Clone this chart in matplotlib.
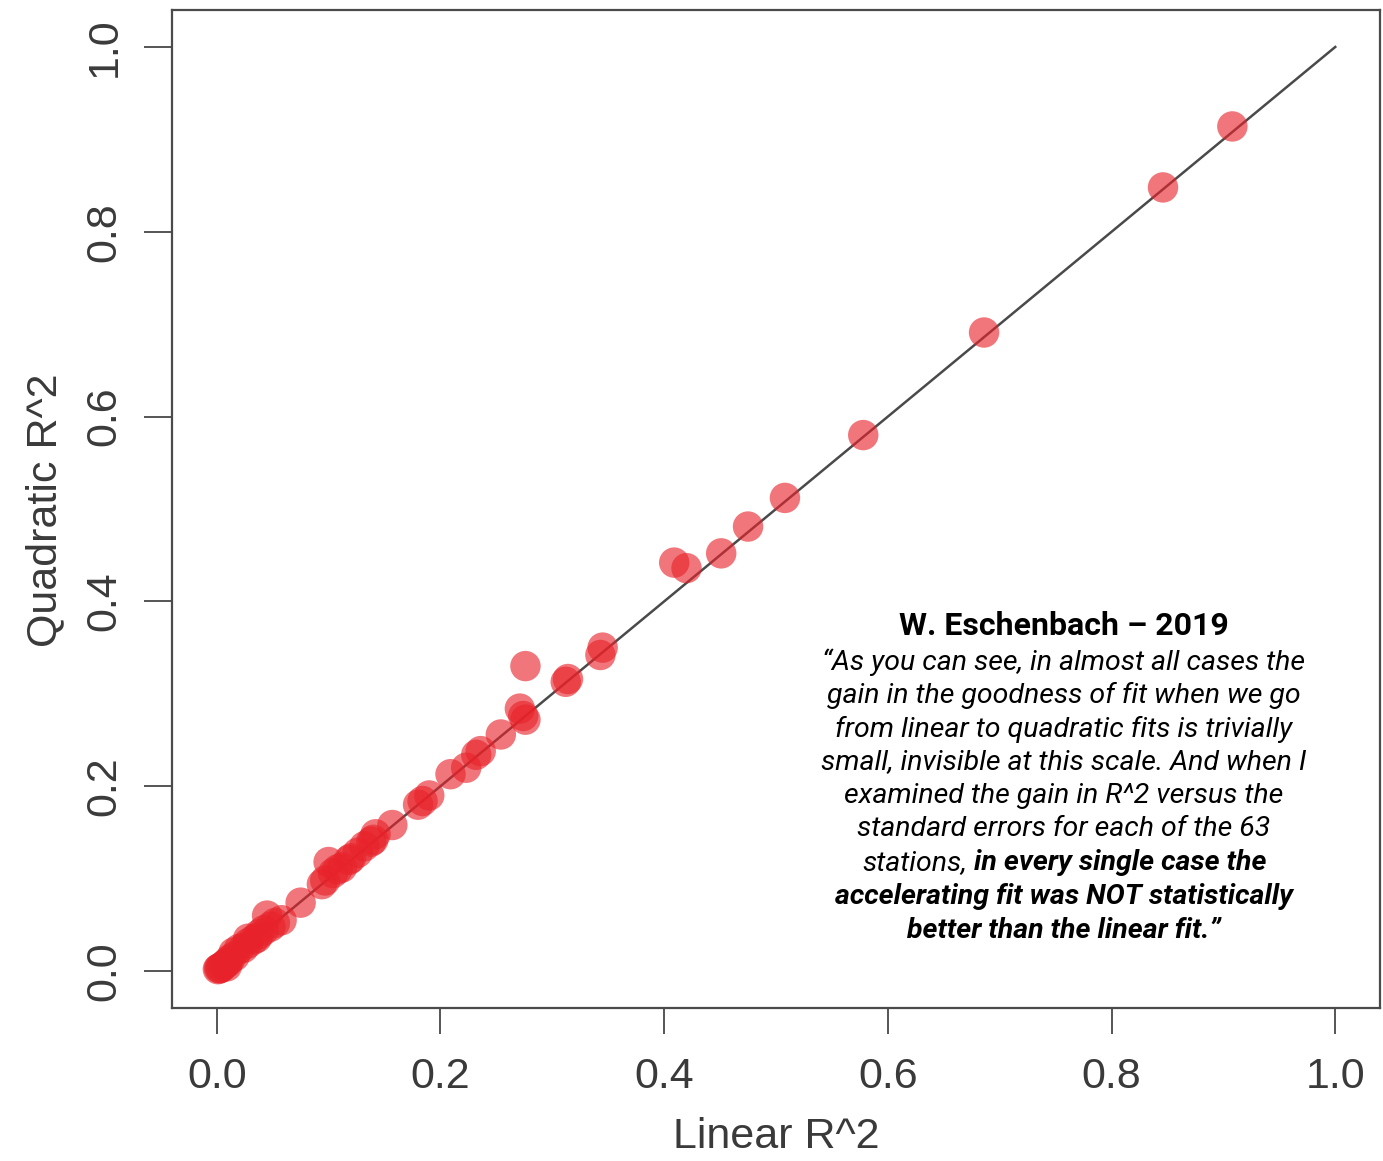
import matplotlib
matplotlib.use("Agg")
import matplotlib.pyplot as plt

# ---------------- data ----------------
linear_r2 = [0.908, 0.846, 0.686, 0.578, 0.508, 0.475, 0.451, 0.420, 0.409,
             0.345, 0.343, 0.314, 0.312, 0.276, 0.274, 0.271, 0.276, 0.254,
             0.236, 0.232, 0.223, 0.209, 0.190, 0.184, 0.180, 0.157, 0.142,
             0.138, 0.132, 0.126, 0.120, 0.112, 0.100, 0.104, 0.097, 0.094,
             0.075, 0.058, 0.052, 0.045, 0.042, 0.038, 0.033, 0.028, 0.024,
             0.020, 0.016, 0.012, 0.010, 0.008, 0.006, 0.004, 0.003, 0.002,
             0.015, 0.028, 0.140, 0.118, 0.108, 0.048, 0.036, 0.001, 0.009]
quadratic_r2 = [0.914, 0.848, 0.691, 0.580, 0.512, 0.481, 0.452, 0.436, 0.442,
                0.350, 0.342, 0.316, 0.313, 0.330, 0.276, 0.284, 0.272, 0.256,
                0.238, 0.234, 0.220, 0.213, 0.190, 0.184, 0.180, 0.158, 0.148,
                0.140, 0.135, 0.128, 0.122, 0.112, 0.118, 0.106, 0.098, 0.094,
                0.074, 0.055, 0.052, 0.060, 0.044, 0.040, 0.034, 0.030, 0.025,
                0.024, 0.016, 0.013, 0.010, 0.008, 0.006, 0.004, 0.003, 0.003,
                0.020, 0.035, 0.142, 0.120, 0.110, 0.048, 0.036, 0.002, 0.005]
tick_values = [0.0, 0.2, 0.4, 0.6, 0.8, 1.0]
tick_labels = ["0.0", "0.2", "0.4", "0.6", "0.8", "1.0"]
x_label = "Linear R^2"
y_label = "Quadratic R^2"

title_text = "W. Eschenbach \u2013 2019"
quote_lines = [
    [("\u201cAs you can see, in almost all cases the", "normal")],
    [("gain in the goodness of fit when we go", "normal")],
    [("from linear to quadratic fits is trivially", "normal")],
    [("small, invisible at this scale. And when I", "normal")],
    [("examined the gain in R^2 versus the", "normal")],
    [("standard errors for each of the 63", "normal")],
    [("stations,", "normal"), ("in every single case the", "bold")],
    [("accelerating fit was NOT statistically", "bold")],
    [("better than the linear fit.\u201d", "bold")],
]

# ---------------- figure ----------------
W, H = 1383, 1161
fig = plt.figure(figsize=(W / 100, H / 100), dpi=100)
ax = fig.add_axes([172 / W, 1 - 1008 / H, (1380 - 172) / W, (1008 - 10) / H])

ax.plot([0, 1], [0, 1], color="#4a4a4a", lw=1.8, zorder=1)
ax.scatter(linear_r2, quadratic_r2, s=480, color="#E8222A", alpha=0.62,
           edgecolors="none", zorder=2)

ax.set_xlim(-0.04, 1.04)
ax.set_ylim(-0.04, 1.04)
ax.set_xticks(tick_values)
ax.set_xticklabels(tick_labels)
ax.set_yticks(tick_values)
ax.set_yticklabels(tick_labels, rotation=90, va="center")

axis_font = dict(family=["Liberation Sans", "DejaVu Sans"], size=31, color="#3a3a3a")
for lab in ax.get_xticklabels() + ax.get_yticklabels():
    lab.set_fontfamily(axis_font["family"])
    lab.set_fontsize(axis_font["size"])
    lab.set_color(axis_font["color"])
ax.tick_params(axis="x", length=19, width=1.4, color="#555555", pad=16)
ax.tick_params(axis="y", length=20, width=1.4, color="#555555", pad=14)
for sp in ax.spines.values():
    sp.set_color("#4a4a4a")
    sp.set_linewidth(1.6)

fig.text(776 / W, 1 - 1137 / H, x_label, ha="center", va="center", **axis_font)
fig.text(45 / W, 1 - 510 / H, y_label, ha="center", va="center", rotation=90, **axis_font)

# ---------------- annotation ----------------
cx = 1064
fig.text(cx / W, 1 - 626 / H, title_text, ha="center", va="center",
         family=["Roboto", "DejaVu Sans"], fontweight="bold", size=23, color="black")

renderer = fig.canvas.get_renderer()
body_size = 20.5
body_font = ["Roboto", "DejaVu Sans"]

def measure(s, weight):
    t = fig.text(0, 0, s, family=body_font, style="italic", fontweight=weight, size=body_size)
    w = t.get_window_extent(renderer).width
    t.remove()
    return w

space_w = measure("x x", "normal") - measure("xx", "normal")
y0, dy = 662, 33.5
for i, segs in enumerate(quote_lines):
    yy = 1 - (y0 + i * dy) / H
    widths = [measure(s, w) for s, w in segs]
    total = sum(widths) + space_w * (len(segs) - 1)
    x = cx - total / 2
    for (s, w), wd in zip(segs, widths):
        fig.text(x / W, yy, s, ha="left", va="center", family=body_font,
                 style="italic", fontweight=w, size=body_size, color="black")
        x += wd + space_w

fig.savefig("out.png", dpi=100)
